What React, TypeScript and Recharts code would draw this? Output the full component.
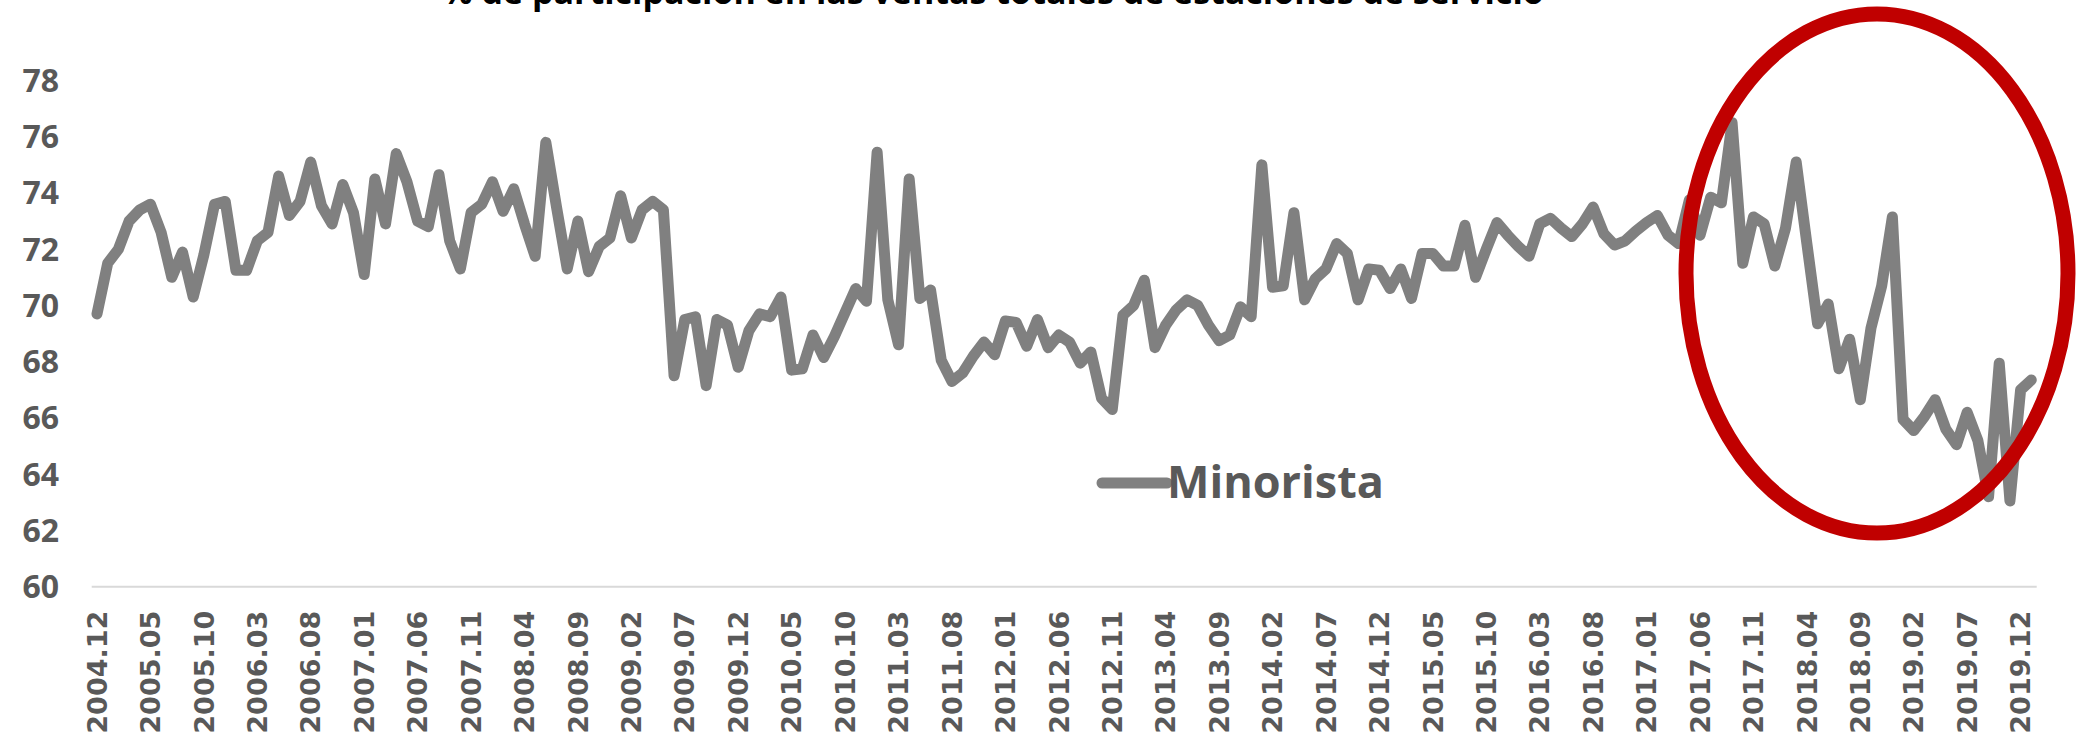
import React from 'react';
import { LineChart, Line, XAxis, YAxis, Legend } from 'recharts';

// monthly share (%) of retail stations, 2004.12 .. 2020.01
const v2004 = [69.7];
const v2005 = [71.5, 72.0, 73.0, 73.4, 73.6, 72.6, 71.0, 71.9, 70.3, 71.8, 73.6, 73.7];
const v2006 = [71.25, 71.25, 72.3, 72.6, 74.6, 73.2, 73.7, 75.1, 73.55, 72.9, 74.3, 73.3];
const v2007 = [71.1, 74.5, 72.9, 75.4, 74.4, 73.0, 72.8, 74.65, 72.3, 71.3, 73.3, 73.6];
const v2008 = [74.4, 73.35, 74.15, 72.9, 71.75, 75.8, 73.5, 71.3, 73.0, 71.2, 72.1, 72.4];
const v2009 = [73.9, 72.4, 73.4, 73.7, 73.4, 67.5, 69.5, 69.6, 67.15, 69.5, 69.3, 67.8];
const v2010 = [69.1, 69.7, 69.6, 70.3, 67.7, 67.75, 68.95, 68.15, 68.9, 69.75, 70.6, 70.15];
const v2011 = [75.45, 70.2, 68.6, 74.5, 70.25, 70.55, 68.05, 67.3, 67.6, 68.2, 68.7, 68.25];
const v2012 = [69.45, 69.4, 68.55, 69.5, 68.5, 68.95, 68.7, 67.95, 68.35, 66.7, 66.3, 69.65];
const v2013 = [70.0, 70.9, 68.5, 69.3, 69.85, 70.2, 70.0, 69.3, 68.75, 68.95, 69.95, 69.6];
const v2014 = [75.0, 70.65, 70.7, 73.3, 70.2, 70.95, 71.3, 72.2, 71.85, 70.2, 71.3, 71.25];
const v2015 = [70.6, 71.3, 70.25, 71.85, 71.85, 71.4, 71.4, 72.85, 71.0, 72.0, 72.95, 72.5];
const v2016 = [72.1, 71.75, 72.9, 73.1, 72.75, 72.45, 72.9, 73.5, 72.55, 72.15, 72.3, 72.65];
const v2017 = [72.95, 73.2, 72.5, 72.2, 73.75, 72.5, 73.85, 73.65, 76.5, 71.5, 73.15, 72.9];
const v2018 = [71.4, 72.75, 75.1, 72.2, 69.35, 70.05, 67.75, 68.8, 66.65, 69.2, 70.7, 73.15];
const v2019 = [65.95, 65.55, 66.05, 66.65, 65.6, 65.05, 66.2, 65.2, 63.2, 67.95, 63.05, 67.0];
const v2020 = [67.35];

const minorista = [
  ...v2004, ...v2005, ...v2006, ...v2007, ...v2008, ...v2009, ...v2010, ...v2011,
  ...v2012, ...v2013, ...v2014, ...v2015, ...v2016, ...v2017, ...v2018, ...v2019, ...v2020,
];

const firstYear = 2004;
const firstMonth = 12;
const months = minorista.map((_, i) => {
  const k = firstMonth - 1 + i;
  return `${firstYear + Math.floor(k / 12)}.${String((k % 12) + 1).padStart(2, '0')}`;
});

const yTicks = [60, 62, 64, 66, 68, 70, 72, 74, 76, 78];

const title = '% de participación en las ventas totales de estaciones de servicio';

const data = months.map((mes, i) => ({ mes, minorista: minorista[i] }));

const GREY = '#595959';

function MonthTick({ x, y, payload }: any) {
  return (
    <text
      x={x}
      y={y}
      dy="0.36em"
      transform={`rotate(-90, ${x}, ${y})`}
      textAnchor="end"
      fill={GREY}
      fontSize={27}
      fontWeight={700}
      fontFamily="'DejaVu Sans', Verdana, sans-serif"
    >
      {payload.value}
    </text>
  );
}

function LegendBox({ payload }: any) {
  const item = payload && payload[0];
  return (
    <svg width={330} height={70}>
      <line x1={7} y1={33} x2={72} y2={33} stroke="#808080" strokeWidth={11} strokeLinecap="round" />
      <text x={72} y={48} fill={GREY} fontSize={45} fontWeight={700} fontFamily="'Open Sans', sans-serif">
        {item ? item.value : 'Minorista'}
      </text>
    </svg>
  );
}

export default function App() {
  return (
    <div style={{ position: 'absolute', left: 0, top: 0, width: 2076, height: 736, background: '#fff', overflow: 'hidden' }}>
      <LineChart width={2076} height={736} data={data} margin={{ top: 80.5, right: 39.3, bottom: 0, left: 0 }}>
        <XAxis
          dataKey="mes"
          interval={4}
          tickLine={false}
          axisLine={{ stroke: '#D9D9D9', strokeWidth: 2 }}
          height={149.3}
          tickMargin={18}
          padding={{ left: 5.3, right: 5.4 }}
          tick={<MonthTick />}
        />
        <YAxis
          domain={[60, 78]}
          ticks={yTicks}
          interval={0}
          axisLine={false}
          tickLine={false}
          width={91.7}
          tickMargin={26.7}
          tick={{ fill: GREY, fontSize: 32, fontWeight: 700, fontFamily: "'Open Sans', sans-serif" }}
        />
        <Legend
          layout="horizontal"
          verticalAlign="middle"
          align="center"
          wrapperStyle={{ left: 1095, top: 450, width: 330, height: 70 }}
          content={<LegendBox />}
        />
        <Line
          type="linear"
          dataKey="minorista"
          name="Minorista"
          stroke="#808080"
          strokeWidth={11}
          strokeLinejoin="round"
          strokeLinecap="round"
          dot={false}
          activeDot={false}
          isAnimationActive={false}
        />
      </LineChart>
      <svg width={2076} height={736} style={{ position: 'absolute', left: 0, top: 0, pointerEvents: 'none' }}>
        <text x={993} y={4} textAnchor="middle" fill="#000" fontSize={34} fontWeight={700} fontFamily="'Open Sans', sans-serif">
          {title}
        </text>
        <ellipse cx={1877} cy={273.5} rx={191} ry={259.5} fill="none" stroke="#C00000" strokeWidth={15} />
      </svg>
    </div>
  );
}
